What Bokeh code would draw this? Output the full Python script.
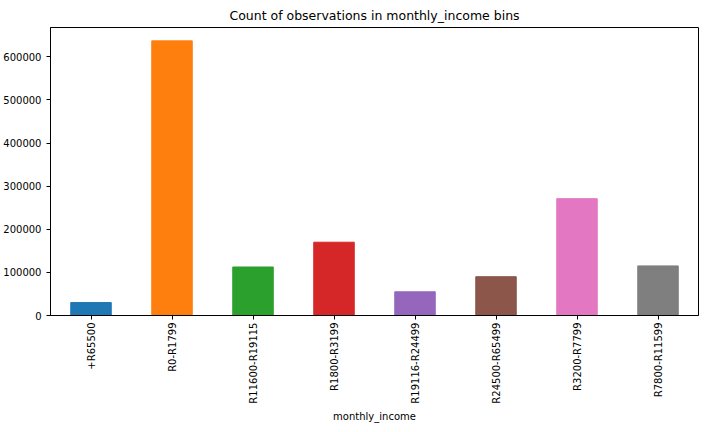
from bokeh.plotting import figure
from bokeh.models import ColumnDataSource, NumeralTickFormatter
from bokeh.embed import file_html
from bokeh.resources import INLINE
import math

categories = ["+R65500", "R0-R1799", "R11600-R19115", "R1800-R3199", "R19116-R24499",
              "R24500-R65499", "R3200-R7799", "R7800-R11599"]
counts = [30000, 637000, 112500, 170000, 55000, 90000, 271000, 115000]
colors = ["#1f77b4", "#ff7f0e", "#2ca02c", "#d62728", "#9467bd", "#8c564b", "#e377c2", "#7f7f7f"]

src = ColumnDataSource(dict(x=categories, y=counts, c=colors))
p = figure(x_range=categories, y_range=(0, 668000), width=710, height=424,
           output_backend="svg", toolbar_location=None,
           title="Count of observations in monthly_income bins",
           min_border_left=47, min_border_right=12, min_border_top=19, min_border_bottom=4)
p.vbar(x="x", top="y", width=0.5, color="c", source=src)
p.x_range.range_padding = 0
p.title.align = "center"
p.title.text_font = "DejaVu Sans"
p.title.text_font_size = "12.5px"
p.title.text_color = "black"
p.title.text_font_style = "normal"
p.xgrid.visible = False
p.ygrid.visible = False
p.outline_line_color = "black"
p.xaxis.major_label_orientation = math.pi / 2
p.xaxis.axis_label = "monthly_income"
p.xaxis.major_label_standoff = 3
p.xaxis.axis_label_standoff = 4
p.yaxis.formatter = NumeralTickFormatter(format="0")
p.yaxis.ticker = [0, 100000, 200000, 300000, 400000, 500000, 600000]
for ax in (p.xaxis, p.yaxis):
    ax.major_label_text_font = "DejaVu Sans"
    ax.major_label_text_font_size = "10px"
    ax.major_label_text_color = "black"
    ax.axis_label_text_font = "DejaVu Sans"
    ax.axis_label_text_font_size = "10px"
    ax.axis_label_text_color = "black"
    ax.axis_label_text_font_style = "normal"
    ax.minor_tick_line_color = None
    ax.major_tick_out = 4
    ax.major_tick_in = 0
    ax.axis_line_color = "black"
open("out.html", "w").write(file_html(p, INLINE))
